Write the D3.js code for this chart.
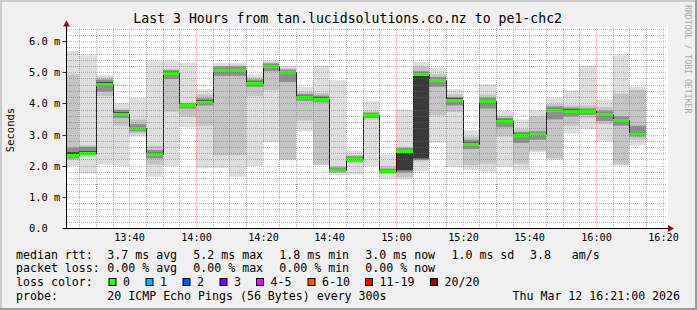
<!DOCTYPE html>
<html><head><meta charset="utf-8">
<script src="https://cdn.jsdelivr.net/npm/d3@7"></script>
<style>html,body{margin:0;padding:0;background:#f0f0f0;} svg{display:block;}</style>
</head><body><svg id="c" width="697" height="310"></svg>
<script>
// ---------- data ----------
const startTime = "13:21", endTime = "16:21";
const slots = ["13:20","13:25","13:30","13:35","13:40","13:45","13:50","13:55","14:00","14:05","14:10","14:15",
  "14:20","14:25","14:30","14:35","14:40","14:45","14:50","14:55","15:00","15:05","15:10","15:15",
  "15:20","15:25","15:30","15:35","15:40","15:45","15:50","15:55","16:00","16:05","16:10"];
// smoke: outer (min..max), mid, near, inner bands and median, in ms
const pingMin = [2.01,1.76,2.05,2.00,2.95,1.66,2.00,3.26,1.94,1.94,1.66,2.00,2.78,2.19,3.12,2.03,1.72,1.73,2.00,1.60,1.60,1.85,2.75,1.97,1.87,1.82,1.98,1.86,2.45,2.20,3.05,3.18,2.80,2.02,2.66];
const pingMax = [5.69,5.56,4.92,4.04,4.19,5.37,5.37,5.32,4.47,5.31,5.31,4.95,5.40,5.21,4.54,5.24,4.76,2.48,4.08,2.38,3.82,5.35,5.16,4.47,3.15,4.63,3.77,3.50,3.79,4.20,4.44,5.24,4.14,5.56,4.56];
const midLo   = [2.20,2.30,4.25,3.30,3.05,2.05,3.75,3.60,3.30,2.35,2.35,4.25,4.44,2.21,3.47,2.05,1.78,2.10,3.50,1.75,1.65,2.15,3.63,3.74,2.03,2.08,2.95,2.08,2.50,2.25,3.30,3.55,3.35,2.05,2.85];
const midHi   = [4.94,2.67,4.85,3.85,3.50,2.65,5.12,4.05,4.30,5.22,5.24,4.85,5.33,5.14,4.38,4.35,2.00,2.36,3.76,2.00,2.62,5.20,4.95,4.30,2.95,4.30,3.62,3.18,3.60,4.00,3.95,3.95,3.90,4.33,4.45];
const nearLo  = [2.25,2.36,4.40,3.55,3.12,2.25,4.80,3.85,3.95,4.90,4.90,4.55,5.05,4.70,4.10,4.05,1.82,2.15,3.55,1.80,1.80,2.20,4.55,3.95,2.55,3.85,3.25,2.75,2.85,3.50,3.60,3.65,3.45,3.30,2.95];
const nearHi  = [2.60,2.62,4.78,3.80,3.35,2.52,5.08,4.02,4.18,5.20,5.20,4.78,5.30,5.10,4.32,4.27,1.96,2.32,3.72,1.92,2.58,5.05,4.86,4.22,2.85,4.20,3.55,3.10,3.12,3.92,3.88,3.86,3.78,3.60,3.30];
const innerLo = [2.30,2.40,4.60,3.65,3.18,2.33,4.95,3.92,4.03,5.04,5.04,4.63,5.17,4.97,4.18,4.13,1.85,2.19,3.61,1.83,1.87,2.25,4.72,4.10,2.68,4.04,3.41,2.96,2.98,3.76,3.74,3.72,3.63,3.43,2.98];
const innerHi = [2.45,2.48,4.70,3.73,3.26,2.43,5.03,3.98,4.11,5.12,5.12,4.71,5.25,5.05,4.26,4.21,1.90,2.26,3.67,1.88,2.48,4.98,4.80,4.18,2.76,4.12,3.49,3.04,3.06,3.84,3.82,3.80,3.71,3.51,3.06];
const median  = [2.36,2.43,4.65,3.69,3.22,2.38,4.99,3.95,4.07,5.08,5.08,4.67,5.21,5.01,4.22,4.17,1.87,2.22,3.64,1.85,2.48,4.95,4.76,4.14,2.72,4.08,3.45,3.00,3.02,3.80,3.78,3.76,3.67,3.47,3.02];

const xTickLabels = ["13:40","14:00","14:20","14:40","15:00","15:20","15:40","16:00","16:20"];
const yTicks = [0,1,2,3,4,5,6];
const yTickLabels = ["0.0","1.0 m","2.0 m","3.0 m","4.0 m","5.0 m","6.0 m"];
const yMax = 6.42;

const titleText = "Last 3 Hours from tan.lucidsolutions.co.nz to pe1-chc2";
const yAxisTitle = "Seconds";
const creditText = "RRDTOOL / TOBI OETIKER";
const rttStats = ["3.7 ms avg","5.2 ms max","1.8 ms min","3.0 ms now","1.0 ms sd","3.8","am/s"];
const lossStats = ["0.00 % avg","0.00 % max","0.00 % min","0.00 % now"];
const lossClasses = ["0","1","2","3","4-5","6-10","11-19","20/20"];
const lossColors = ["#26ff00","#00b8ff","#0059ff","#7e00ff","#ff00ff","#ff5500","#ff0000","#a10000"];
const probeText = "20 ICMP Echo Pings (56 Bytes) every 300s";
const dateText = "Thu Mar 12 16:21:00 2026";

// ---------- drawing ----------
const svg = d3.select("#c");
const mono = "'DejaVu Sans Mono', monospace";
const parse = d3.timeParse("%H:%M");
const xs = d3.scaleTime().domain([parse(startTime), parse(endTime)]).range([66.5, 666.5]);
const ys = d3.scaleLinear().domain([0, yMax]).range([228.5, 28.5]);
const px = t => Math.floor(xs(t));

// background + frame
svg.append("rect").attr("width",697).attr("height",310).attr("fill","#f0f0f0");
svg.append("rect").attr("x",0).attr("y",0).attr("width",697).attr("height",2).attr("fill","#cbcbcb");
svg.append("rect").attr("x",0).attr("y",0).attr("width",2).attr("height",310).attr("fill","#cbcbcb");
svg.append("rect").attr("x",0).attr("y",308).attr("width",697).attr("height",2).attr("fill","#999999");
svg.append("rect").attr("x",695).attr("y",0).attr("width",2).attr("height",310).attr("fill","#999999");

// canvas
svg.append("rect").attr("x",67).attr("y",27).attr("width",601).attr("height",201.5).attr("fill","#ffffff");

const defs = svg.append("defs");
defs.append("clipPath").attr("id","plot").append("rect").attr("x",67).attr("y",20).attr("width",600).attr("height",208.5);
const plot = svg.append("g").attr("clip-path","url(#plot)");

const bars = slots.map((s,i) => ({t0: parse(s), t1: d3.timeMinute.offset(parse(s),5), i}));
const bands = [
  {lo: pingMin, hi: pingMax, color: "#dddddd"},
  {lo: midLo, hi: midHi, color: "#c4c4c4"},
  {lo: nearLo, hi: nearHi, color: "#8f8f8f"},
  {lo: innerLo, hi: innerHi, color: "#3a3a3a"}
];
bands.forEach(b => {
  plot.append("g").selectAll("rect").data(bars).join("rect")
    .attr("x", d => px(d.t0))
    .attr("width", d => px(d.t1) - px(d.t0))
    .attr("y", d => ys(b.hi[d.i]))
    .attr("height", d => ys(b.lo[d.i]) - ys(b.hi[d.i]))
    .attr("fill", b.color);
});

// grid (on top of smoke)
const grid = svg.append("g").attr("shape-rendering","crispEdges");
const minorCol = "rgba(110,110,110,0.5)", majorCol = "rgba(255,0,0,0.32)";
const minorV = d3.timeMinute.every(5).range(parse("13:25"), parse("16:21"))
  .filter(t => t.getMinutes() % 20 !== 0);
grid.selectAll("line.mv").data(minorV).join("line")
  .attr("x1", d => px(d) + 0.5).attr("x2", d => px(d) + 0.5)
  .attr("y1", 28).attr("y2", 228)
  .attr("stroke", minorCol).attr("stroke-dasharray","1,1");
const minorH = d3.range(1, 33).map(k => k * 0.2).filter(v => Math.abs(v - Math.round(v)) > 0.01 && v <= yMax);
grid.selectAll("line.mh").data(minorH).join("line")
  .attr("x1", 67).attr("x2", 667)
  .attr("y1", d => Math.floor(ys(d)) + 0.5).attr("y2", d => Math.floor(ys(d)) + 0.5)
  .attr("stroke", minorCol).attr("stroke-dasharray","1,1");
const majorV = xTickLabels.map(parse);
grid.selectAll("line.jv").data(majorV).join("line")
  .attr("x1", d => px(d) + 0.5).attr("x2", d => px(d) + 0.5)
  .attr("y1", 28).attr("y2", 228)
  .attr("stroke", majorCol).attr("stroke-dasharray","1,1");
grid.selectAll("line.jh").data(yTicks.filter(v => v > 0)).join("line")
  .attr("x1", 67).attr("x2", 667)
  .attr("y1", d => Math.floor(ys(d)) + 0.5).attr("y2", d => Math.floor(ys(d)) + 0.5)
  .attr("stroke", majorCol).attr("stroke-dasharray","1,1");

// median step line
const stepPts = bars.map(d => [px(d.t0) + 0.5, Math.round(ys(median[d.i])) + 0.5]);
const last = bars[bars.length - 1];
stepPts.push([px(last.t1), Math.round(ys(median[last.i])) + 0.5]);
plot.append("path").attr("d", d3.line().curve(d3.curveStepAfter)(stepPts))
  .attr("fill","none").attr("stroke","#111").attr("stroke-width",1);
// median loss-colour segments (all 0 loss)
plot.append("g").selectAll("rect").data(bars).join("rect")
  .attr("x", d => px(d.t0)).attr("width", d => px(d.t1) - px(d.t0))
  .attr("y", d => Math.round(ys(median[d.i])) - 1).attr("height", 3)
  .attr("fill", lossColors[0]);

// axes
svg.append("line").attr("x1",62.5).attr("x2",668).attr("y1",228.5).attr("y2",228.5).attr("stroke","#000");
svg.append("line").attr("x1",66.5).attr("x2",66.5).attr("y1",228.5).attr("y2",26).attr("stroke","#000");
svg.append("polygon").attr("points","668,225 674,228.5 668,232").attr("fill","#8f1515");
svg.append("polygon").attr("points","63,26.5 66.5,20.5 70,26.5").attr("fill","#8f1515");
svg.selectAll("line.yt").data(yTicks.filter(v => v > 0)).join("line")
  .attr("x1",62.5).attr("x2",66.5)
  .attr("y1", d => Math.floor(ys(d)) + 0.5).attr("y2", d => Math.floor(ys(d)) + 0.5)
  .attr("stroke","#333");

// axis labels
svg.selectAll("text.yl").data(yTicks).join("text")
  .attr("x", 29).attr("y", d => ys(d) + 3.5)
  .attr("font-family", mono).attr("font-size", "10.4px").attr("fill","#000")
  .style("white-space","pre")
  .text((d,i) => yTickLabels[i]);
svg.selectAll("text.xl").data(majorV).join("text")
  .attr("x", d => px(d) + 0.5).attr("y", 241)
  .attr("text-anchor","middle")
  .attr("font-family", mono).attr("font-size", "10.2px").attr("fill","#000")
  .text((d,i) => xTickLabels[i]);

// title etc.
svg.append("text").attr("x",347.7).attr("y",23.3).attr("text-anchor","middle")
  .attr("font-family", mono).attr("font-size","13.2px").attr("fill","#000").text(titleText);
svg.append("text").attr("transform","translate(14,130) rotate(-90)").attr("text-anchor","middle")
  .attr("font-family", mono).attr("font-size","10.5px").attr("fill","#000").text(yAxisTitle);
svg.append("text").attr("transform","translate(685,5) rotate(90)")
  .attr("font-family", mono).attr("font-size","8.2px").attr("fill","#a8a8a8").text(creditText);

// legend
const lg = svg.append("g").attr("font-family", mono).attr("font-size","11.6px").attr("fill","#000");
const row = [258.5, 272.2, 286, 299.6];
const colX = [107.3, 193.3, 279.3, 365.3, 451.5, 530, 571.7];
lg.append("text").attr("x",16).attr("y",row[0]).text("median rtt:");
rttStats.forEach((s,i) => lg.append("text").attr("x",colX[i]).attr("y",row[0]).text(s));
lg.append("text").attr("x",16).attr("y",row[1]).text("packet loss:");
lossStats.forEach((s,i) => lg.append("text").attr("x",colX[i]).attr("y",row[1]).text(s));
lg.append("text").attr("x",16).attr("y",row[2]).text("loss color:");
const boxX = [108.5, 145.5, 182.5, 219.5, 256, 307.5, 365, 430];
lossClasses.forEach((c,i) => {
  lg.append("rect").attr("x",boxX[i]+0.5).attr("y",278.5).attr("width",7).attr("height",7)
    .attr("fill",lossColors[i]).attr("stroke","#000").attr("stroke-width",1);
  lg.append("text").attr("x",boxX[i]+14.5).attr("y",row[2]).text(c);
});
lg.append("text").attr("x",16).attr("y",row[3]).text("probe:");
lg.append("text").attr("x",107.3).attr("y",row[3]).text(probeText);
lg.append("text").attr("x",512.5).attr("y",row[3]).text(dateText);
</script></body></html>
